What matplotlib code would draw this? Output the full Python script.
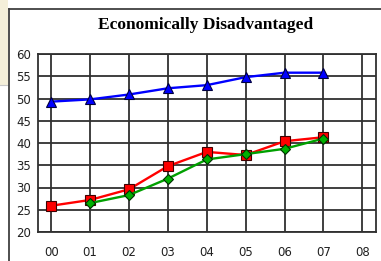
""" Economically Disadvantaged - line chart recreation """

import numpy as np
import matplotlib
matplotlib.use("Agg")
import matplotlib.pyplot as plt
from matplotlib.patches import Rectangle
from matplotlib.lines import Line2D

# data
years = ["00", "01", "02", "03", "04", "05", "06", "07", "08"]
blue_vals = [49.3, 49.8, 50.9, 52.3, 53.0, 54.8, 55.8, 55.8]
red_vals = [25.9, 27.2, 29.6, 34.8, 38.0, 37.3, 40.4, 41.3]
green_years = [1, 2, 3, 4, 5, 6, 7]
green_vals = [26.5, 28.3, 32.0, 36.3, 37.5, 38.7, 41.0]
y_ticks = [20, 25, 30, 35, 40, 45, 50, 55, 60]

W, H = 381, 261
fig = plt.figure(figsize=(W / 100, H / 100), dpi=100)
fig.patch.set_facecolor("white")

def fx(px):
    return px / W

def fy(py):
    return 1 - py / H

# beige strip on the left and the panel frame
fig.add_artist(Rectangle((0, fy(85)), fx(8), 1 - fy(85), transform=fig.transFigure,
                         facecolor="#f4efd9", edgecolor="none", zorder=0))
fig.add_artist(Line2D([0, fx(8)], [fy(85), fy(85)], transform=fig.transFigure,
                      color="#c8c8c8", lw=0.8))
fig.add_artist(Line2D([fx(8.5), 1], [fy(8.5), fy(8.5)], transform=fig.transFigure,
                      color="#404040", lw=1.3))
fig.add_artist(Line2D([fx(8.5), fx(8.5)], [0, fy(8.5)], transform=fig.transFigure,
                      color="#404040", lw=1.3))

ax = fig.add_axes([fx(38), fy(232), fx(376) - fx(38), fy(54) - fy(232)])
ax.set_facecolor("white")

x_all = np.arange(len(years))
x_data = np.arange(len(blue_vals))

ax.plot(x_data, red_vals, color="#ff0000", lw=1.7, marker="s", markersize=7,
        markerfacecolor="#ff0000", markeredgecolor="#400000", markeredgewidth=0.8, zorder=3)
ax.plot(green_years, green_vals, color="#00a000", lw=1.7, marker="D", markersize=5,
        markerfacecolor="#00b000", markeredgecolor="#003000", markeredgewidth=0.8, zorder=4)
ax.plot(x_data, blue_vals, color="#0000ff", lw=1.7, marker="^", markersize=7,
        markerfacecolor="#0000ff", markeredgecolor="#000040", markeredgewidth=0.8, zorder=5)

ax.set_xlim(-0.34, 8.35)
ax.set_ylim(20, 60)
ax.set_xticks(x_all)
ax.set_xticklabels(years)
ax.set_yticks(y_ticks)
ax.grid(True, color="#303030", lw=1.3)
ax.set_axisbelow(True)
for s in ax.spines.values():
    s.set_color("#303030")
    s.set_linewidth(1.3)
ax.tick_params(length=0, labelsize=8.5, colors="#202020")
ax.tick_params(axis="x", pad=10)
ax.tick_params(axis="y", pad=5)

fig.text(fx(206), fy(25), "Economically Disadvantaged", ha="center", va="center",
         fontsize=12.5, fontweight="bold", color="black", family="Liberation Serif")

fig.savefig("out.png", dpi=100)
